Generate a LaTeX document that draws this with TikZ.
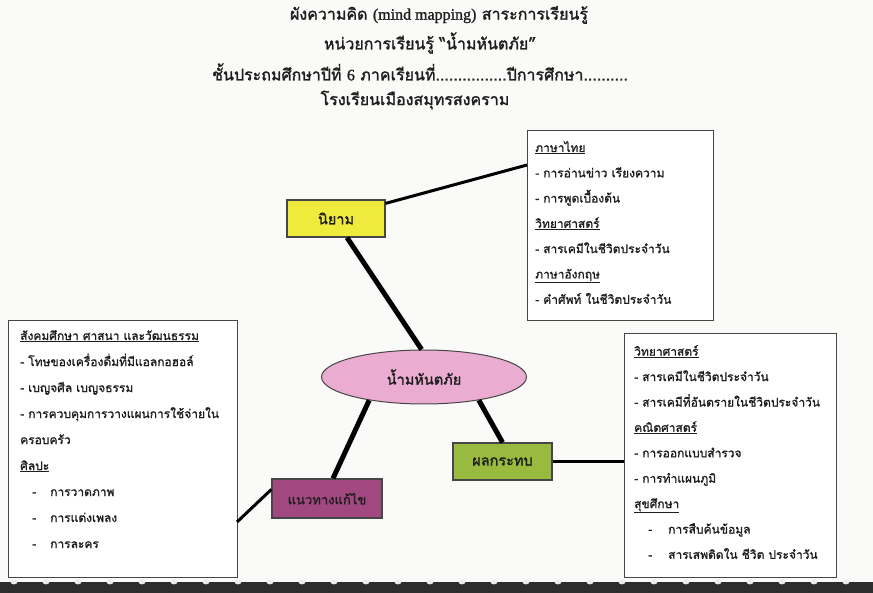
\documentclass[tikz,border=0pt]{standalone}
\usepackage{fontspec}
\newfontfamily\thai[Script=Thai,FakeBold=1.6]{Loma}
\newfontfamily\thaibox[Script=Thai,FakeBold=1.2]{Loma}
\newfontfamily\lat[FakeBold=1.2]{Liberation Serif}
\usetikzlibrary{shapes.geometric,calc}
\definecolor{bgcol}{RGB}{250,250,248}
\definecolor{boxline}{RGB}{70,70,70}
\definecolor{yel}{RGB}{240,234,60}
\definecolor{pinkc}{RGB}{234,172,208}
\definecolor{greenc}{RGB}{152,186,62}
\definecolor{purp}{RGB}{162,72,128}
\definecolor{txt}{RGB}{30,30,30}
\definecolor{band}{RGB}{45,45,45}
\tikzset{
  title/.style={font=\thai\fontsize{16}{18}\selectfont, text=txt, inner sep=0},
  textbox/.style={draw=boxline, line width=1pt, fill=white, anchor=north west, inner sep=0},
  boxtext/.style={font=\thaibox\fontsize{12}{#1}\selectfont, text=txt, align=left, anchor=north west, inner sep=0},
  topic/.style={draw=boxline, line width=1.2pt, inner sep=0, font=\thai\fontsize{14.5}{16}\selectfont, text=txt},
  spoke/.style={line width=5pt, black},
  link/.style={line width=3pt, black}
}
\begin{document}
\begin{tikzpicture}[x=1pt,y=-1pt]
\useasboundingbox (0,0) rectangle (873,593);
\fill[bgcol] (0,0) rectangle (873,593);

% titles
\node[title] (t1) at (439,15) {ผังความคิด {\lat (mind mapping)} สาระการเรียนรู้};
\node[title] (t2) at (430,43) {หน่วยการเรียนรู้ “น้ำมหันตภัย”};
\node[title] (t3) at (420,72) {ชั้นประถมศึกษาปีที่ {\lat 6} ภาคเรียนที่................ปีการศึกษา..........};
\node[title] (t4) at (415,100) {โรงเรียนเมืองสมุทรสงคราม};

% text boxes
\node[textbox, minimum width=186, minimum height=190] (tr) at (527,130) {};
\node[boxtext=25.3] (trt) at (535,141) {\underline{ภาษาไทย}\\
- การอ่านข่าว เรียงความ\\
- การพูดเบื้องต้น\\
\underline{วิทยาศาสตร์}\\
- สารเคมีในชีวิตประจำวัน\\
\underline{ภาษาอังกฤษ}\\
- คำศัพท์ ในชีวิตประจำวัน};

\node[textbox, minimum width=229, minimum height=257] (lb) at (8,320) {};
\node[boxtext=26] (lbt) at (20,330) {\underline{สังคมศึกษา ศาสนา และวัฒนธรรม}\\
- โทษของเครื่องดื่มที่มีแอลกอฮอล์\\
- เบญจศีล เบญจธรรม\\
- การควบคุมการวางแผนการใช้จ่ายใน\\
ครอบครัว\\
\underline{ศิลปะ}\\
\hspace*{12pt}-\hspace{14pt}การวาดภาพ\\
\hspace*{12pt}-\hspace{14pt}การแต่งเพลง\\
\hspace*{12pt}-\hspace{14pt}การละคร};

\node[textbox, minimum width=212, minimum height=244] (rb) at (624,333) {};
\node[boxtext=25.4] (rbt) at (634,345) {\underline{วิทยาศาสตร์}\\
- สารเคมีในชีวิตประจำวัน\\
- สารเคมีที่อันตรายในชีวิตประจำวัน\\
\underline{คณิตศาสตร์}\\
- การออกแบบสำรวจ\\
- การทำแผนภูมิ\\
\underline{สุขศึกษา}\\
\hspace*{14pt}-\hspace{16pt}การสืบค้นข้อมูล\\
\hspace*{14pt}-\hspace{16pt}สารเสพติดใน ชีวิต ประจำวัน};

% topic nodes
\node[topic, fill=yel, minimum width=98, minimum height=37] (niy) at (336,218.5) {นิยาม};
\node[topic, ellipse, fill=pinkc, line width=1pt, minimum width=205, minimum height=54] (cen) at (424,377) {น้ำมหันตภัย};
\node[topic, fill=greenc, minimum width=99, minimum height=37] (eff) at (502.5,461.5) {ผลกระทบ};
\node[topic, fill=purp, minimum width=110, minimum height=39, font=\thai\fontsize{13}{15}\selectfont] (sol) at (327,498.5) {แนวทางแก้ไข};

% connectors
\coordinate (trin) at (527,165);
\coordinate (lbin) at (237,522);
\draw[link] ($(niy.north east)+(0,4)$) -- (trin);
\draw[spoke] ($(niy.south)+(11,0)$) -- (cen.95);
\draw[spoke] (cen.203) -- ($(sol.north)+(6,0)$);
\draw[spoke] (cen.337) -- (eff.north);
\draw[link] (eff.east) -- (rb.west |- eff.east);
\draw[link] ($(sol.north west)+(0,11)$) -- (lbin);

% bottom border band
\fill[band] (0,582) rectangle (873,593);
\foreach \i in {0,...,27} {
  \fill[white!85!gray] (14+32*\i,582) ellipse (3.4 and 2.4);
}
\end{tikzpicture}
\end{document}
